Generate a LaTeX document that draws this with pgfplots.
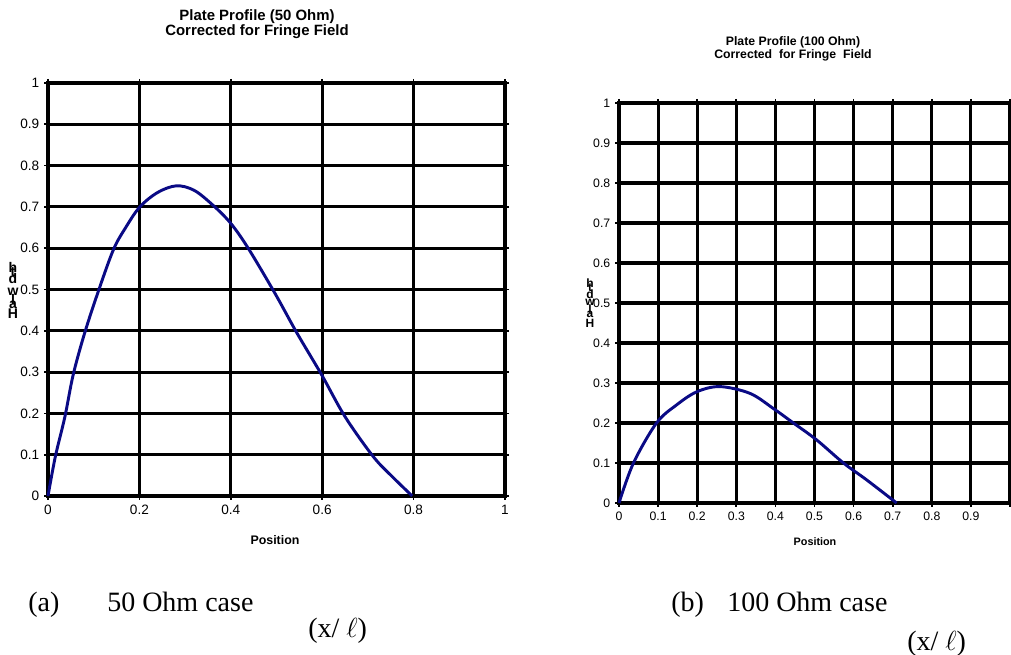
\documentclass[border=0pt]{standalone}
\usepackage{pgfplots}
\pgfplotsset{compat=1.18}
\usepackage{fontspec}
\setmainfont{Liberation Sans}
\newfontfamily\serif{Liberation Serif}
\definecolor{curve}{HTML}{0A0A85}

\pgfplotsset{
  plate/.style={
    scale only axis,
    xmin=0, xmax=1, ymin=0, ymax=1,
    grid=major,
    grid style={black,line width=2.3pt},
    axis line style={black,line width=2.3pt},
    tick align=outside,
    major tick length=3pt,
    tick style={black,line width=1.3pt},
    ytick={0,0.1,...,1.01},
    yticklabels={0,0.1,0.2,0.3,0.4,0.5,0.6,0.7,0.8,0.9,1},
    clip=false,
  },
}

\begin{document}
\begin{tikzpicture}[x=0.75pt,y=0.75pt]
\useasboundingbox (0,0) rectangle (1011,655);

% ---------------- (a) 50 Ohm ----------------
\begin{axis}[plate,
    at={(36pt,119.25pt)}, anchor=south west,
    width=342.75pt, height=309.75pt,
    xtick={0,0.2,0.4,0.6,0.8,1},
    xticklabels={0,0.2,0.4,0.6,0.8,1},
    ticklabel style={font=\fontsize{10.2}{12}\selectfont},
]
\addplot[curve,line width=2.2pt,smooth,tension=0.55] coordinates {
  (0,0) (0.016,0.095) (0.037,0.192) (0.055,0.293) (0.0795,0.392)
  (0.109,0.492) (0.143,0.596) (0.170,0.650) (0.201,0.700) (0.240,0.735)
  (0.281,0.751) (0.320,0.740) (0.362,0.703) (0.400,0.660)
  (0.438,0.600) (0.497,0.490) (0.544,0.396) (0.599,0.293)
  (0.650,0.192) (0.712,0.095) (0.755,0.045) (0.797,0)
};
\end{axis}

% ---------------- (b) 100 Ohm ----------------
\begin{axis}[plate,
    at={(464.25pt,114pt)}, anchor=south west,
    width=293.25pt, height=300pt,
    xtick={0,0.1,...,1.01},
    xticklabels={0,0.1,0.2,0.3,0.4,0.5,0.6,0.7,0.8,0.9,{}},
    ticklabel style={font=\fontsize{9.2}{11}\selectfont},
]
\addplot[curve,line width=2.2pt,smooth,tension=0.55] coordinates {
  (0,0) (0.037,0.100) (0.096,0.200) (0.147,0.245) (0.199,0.278)
  (0.258,0.291) (0.335,0.274) (0.395,0.236) (0.446,0.200)
  (0.505,0.158) (0.574,0.100) (0.633,0.058) (0.710,0)
};
\end{axis}

% ---------------- titles and labels ----------------
\node[font=\bfseries\fontsize{11.2}{11.5}\selectfont,align=center]
  at (257,655-24) {Plate Profile (50 Ohm)\\Corrected for Fringe Field};
\node[font=\bfseries\fontsize{9.2}{9.8}\selectfont,align=center]
  at (793,655-49) {Plate Profile (100 Ohm)\\Corrected\ \ for Fringe\ \ Field};

\node[font=\bfseries\fontsize{9.3}{11}\selectfont] at (275,655-540) {Position};
\node[font=\bfseries\fontsize{8.1}{10}\selectfont] at (815,655-542) {Position};

% stacked, overlapping letters of the y label
\foreach \l/\py in {h/267,t/272,d/279,w/292,l/299,a/305,H/314}
  \node[font=\bfseries\fontsize{10.5}{10}\selectfont,inner sep=0pt] at (13,655-\py) {\l};
\foreach \l/\py in {h/283,t/288,d/294,w/302,l/309,a/314,H/323}
  \node[font=\bfseries\fontsize{9}{9}\selectfont,inner sep=0pt] at (590,655-\py) {\l};

% captions
\begin{scope}[every node/.style={font=\serif\fontsize{21}{24}\selectfont,
                                 anchor=base west,inner sep=0pt}]
  \node at (28,655-612)  {(a)};
  \node at (107,655-612) {50 Ohm case};
  \node at (308,655-638) {(x/ $\ell$)};
  \node at (671,655-612) {(b)};
  \node at (727,655-612) {100 Ohm case};
  \node at (907,655-651) {(x/ $\ell$)};
\end{scope}
\end{tikzpicture}
\end{document}
